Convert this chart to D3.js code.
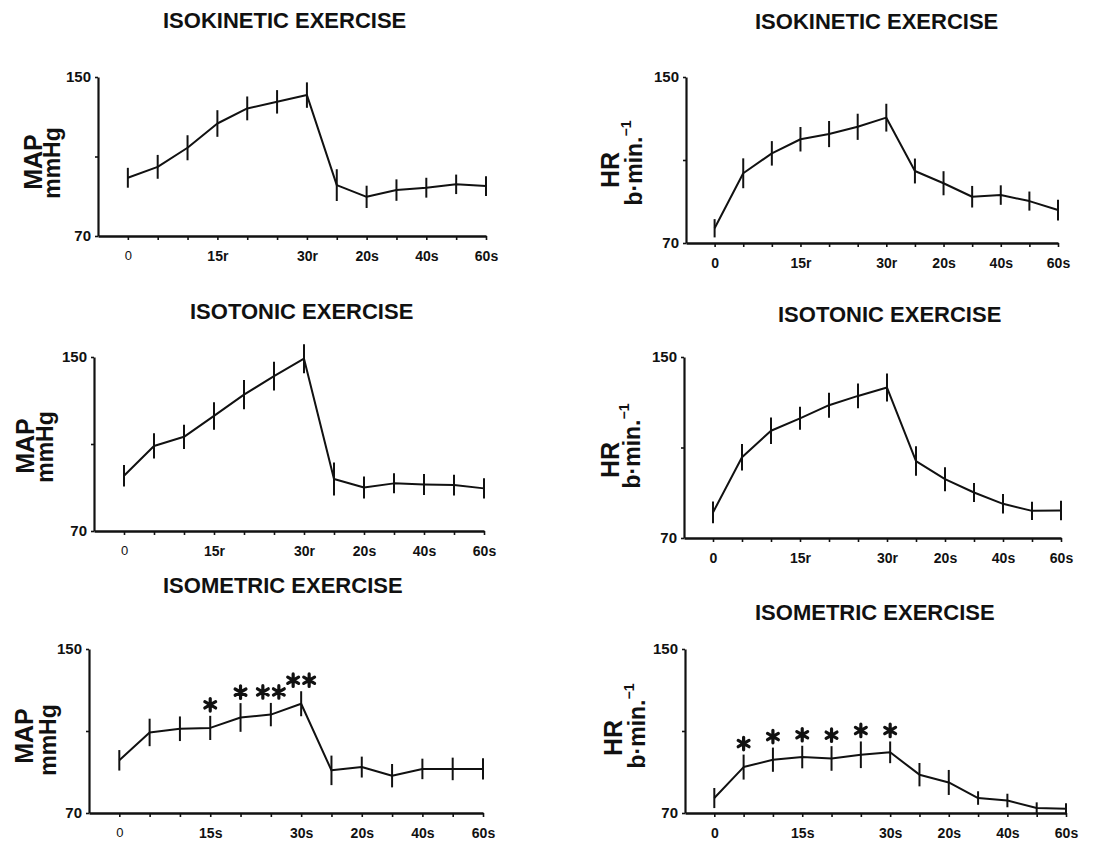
<!DOCTYPE html>
<html>
<head>
<meta charset="utf-8">
<script src="https://cdn.jsdelivr.net/npm/d3@7"></script>
<style>
  body { margin: 0; background: #fff; }
  text { font-family: "Liberation Sans", Arial, sans-serif; fill: #111; }
</style>
</head>
<body>
<script>
// time points: 6 during exercise (5 s apart) + 6 recovery (10 s apart)
const repLabels = ["0", "", "", "15r", "", "", "30r", "", "20s", "", "40s", "", "60s"];
const secLabels = ["0", "", "", "15s", "", "", "30s", "", "20s", "", "40s", "", "60s"];
const yTicks = [70, 110, 150];

// isokinetic
const isokMAP   = [99.3, 104.8, 114.4, 126.6, 134.2, 137.5, 140.9, 95.6, 89.7, 93.1, 94.3, 96.0, 95.1];
const isokMAPse = [5.0, 6.0, 6.3, 6.7, 6.0, 5.9, 6.4, 8.0, 5.6, 5.4, 5.0, 4.9, 5.0];
const isokHR    = [77.1, 103.6, 113.2, 120.0, 122.5, 126.0, 130.4, 104.7, 98.8, 92.3, 93.1, 90.2, 85.9];
const isokHRse  = [4.4, 7.2, 5.9, 5.9, 6.3, 6.3, 6.7, 6.0, 5.8, 5.2, 4.7, 4.6, 5.0];

// isotonic
const isotMAP   = [95.4, 109.1, 113.3, 122.9, 132.7, 141.2, 149.2, 93.9, 90.0, 91.9, 91.4, 91.1, 89.6];
const isotMAPse = [4.9, 5.8, 5.6, 6.3, 6.7, 6.6, 6.7, 7.6, 5.1, 4.6, 4.8, 4.8, 4.6];
const isotHR    = [81.3, 105.7, 117.4, 122.9, 128.7, 132.8, 136.5, 104.0, 96.0, 90.1, 85.1, 82.0, 82.2];
const isotHRse  = [4.8, 5.9, 5.9, 5.1, 5.5, 5.5, 6.2, 6.5, 5.3, 4.2, 4.3, 4.0, 4.3];

// isometric
const isomMAP   = [95.7, 109.3, 111.1, 111.5, 116.6, 118.0, 123.3, 90.8, 92.4, 88.2, 91.5, 91.5, 91.5];
const isomMAPse = [5.0, 6.7, 6.0, 5.9, 7.0, 5.7, 6.1, 7.2, 5.1, 5.7, 5.0, 5.5, 5.2];
const isomHR    = [77.3, 92.4, 96.0, 97.3, 96.6, 98.4, 99.6, 88.7, 84.9, 77.3, 76.1, 72.4, 72.1];
const isomHRse  = [4.9, 6.1, 5.9, 5.5, 6.0, 6.5, 5.3, 5.7, 6.1, 3.3, 3.3, 2.8, 2.7];

// significance marks: [point index, number of asterisks]
const isomMAPstars = [[3, 1], [4, 1], [5, 2], [6, 2]];
const isomHRstars  = [[1, 1], [2, 1], [3, 1], [4, 1], [5, 1], [6, 1]];

const W = 1104, H = 842;
const svg = d3.select("body").append("svg")
    .attr("width", W)
    .attr("height", H);

const panels = [
  {title: "ISOKINETIC EXERCISE", tx: 163, ty: 28, ax: 98, lastX: 486, top: 77, bot: 236,
   vals: isokMAP, se: isokMAPse, labels: repLabels, kind: "MAP", left: true,
   lab: [42, 60], labY: [162, 163]},
  {title: "ISOKINETIC EXERCISE", tx: 755, ty: 29, ax: 686, lastX: 1058, top: 77, bot: 243,
   vals: isokHR, se: isokHRse, labels: repLabels, kind: "HR", left: false,
   lab: [619, 642], labY: [170, 163]},
  {title: "ISOTONIC EXERCISE", tx: 190, ty: 319, ax: 94, lastX: 484, top: 357, bot: 531,
   vals: isotMAP, se: isotMAPse, labels: repLabels, kind: "MAP", left: true,
   lab: [34, 53], labY: [446, 447]},
  {title: "ISOTONIC EXERCISE", tx: 778, ty: 322, ax: 684, lastX: 1061, top: 357, bot: 538,
   vals: isotHR, se: isotHRse, labels: repLabels, kind: "HR", left: false,
   lab: [619, 640], labY: [460, 446]},
  {title: "ISOMETRIC EXERCISE", tx: 163, ty: 593, ax: 89, lastX: 483, top: 649, bot: 813,
   vals: isomMAP, se: isomMAPse, labels: secLabels, kind: "MAP", left: true,
   lab: [33, 56], labY: [736, 740], stars: isomMAPstars},
  {title: "ISOMETRIC EXERCISE", tx: 755, ty: 620, ax: 685, lastX: 1066, top: 649, bot: 813,
   vals: isomHR, se: isomHRse, labels: secLabels, kind: "HR", left: false,
   lab: [622, 645], labY: [738, 726], stars: isomHRstars}
];

panels.forEach(drawPanel);

function drawPanel(p) {
  const x = d3.scaleLinear().domain([-1, 12]).range([p.ax, p.lastX]);
  const y = d3.scaleLinear().domain([70, 150]).range([p.bot, p.top]);
  const g = svg.append("g");

  g.append("text")
      .attr("x", p.tx)
      .attr("y", p.ty)
      .attr("font-size", 22)
      .attr("font-weight", "bold")
      .text(p.title);

  // axes
  const xa = g.append("g")
      .attr("transform", `translate(0,${p.bot})`)
      .call(d3.axisBottom(x)
          .tickValues(d3.range(13))
          .tickSize(4)
          .tickSizeOuter(0)
          .tickPadding(11)
          .tickFormat(i => p.labels[i]));
  xa.select(".domain").attr("stroke-width", 2.6).attr("stroke", "#111");
  xa.selectAll(".tick line").attr("stroke-width", 1.6).attr("stroke", "#111");
  xa.selectAll(".tick text")
      .attr("font-size", 14)
      .attr("font-weight", "bold")
      .attr("font-family", "Liberation Sans, Arial, sans-serif");
  if (p.left) {
    xa.selectAll(".tick text").filter(i => i === 0)
        .attr("font-family", "Liberation Serif, serif")
        .attr("font-weight", "normal")
        .attr("font-size", 13);
  }

  const ya = g.append("g")
      .attr("transform", `translate(${p.ax},0)`)
      .call(d3.axisLeft(y)
          .tickValues(yTicks)
          .tickSize(3)
          .tickSizeOuter(0)
          .tickPadding(4)
          .tickFormat(v => v === 110 ? "" : v));
  ya.select(".domain").attr("stroke-width", 2.2).attr("stroke", "#111");
  ya.selectAll(".tick line").attr("stroke-width", 1.6).attr("stroke", "#111");
  ya.selectAll(".tick text")
      .attr("font-size", 15)
      .attr("font-weight", "bold")
      .attr("font-family", "Liberation Sans, Arial, sans-serif");

  // y label, two rotated lines
  const first = p.kind === "MAP" ? "MAP" : "HR";
  g.append("text")
      .attr("transform", `translate(${p.lab[0]},${p.labY[0]}) rotate(-90)`)
      .attr("text-anchor", "middle")
      .attr("font-size", 25)
      .attr("font-weight", "bold")
      .text(first);
  const second = g.append("text")
      .attr("transform", `translate(${p.lab[1]},${p.labY[1]}) rotate(-90)`)
      .attr("text-anchor", "middle")
      .attr("font-size", 23)
      .attr("font-weight", "bold");
  if (p.kind === "MAP") {
    second.text("mmHg");
  } else {
    second.append("tspan").text("b\u00b7min.");
    second.append("tspan").attr("font-size", 14).attr("dy", -11).text("\u22121");
  }

  // mean line
  const line = d3.line()
      .x((d, i) => x(i))
      .y(d => y(d));
  g.append("path")
      .datum(p.vals)
      .attr("fill", "none")
      .attr("stroke", "#111")
      .attr("stroke-width", 2)
      .attr("stroke-linejoin", "round")
      .attr("d", line);

  // error bars
  g.selectAll(".err")
    .data(p.vals)
    .enter().append("line")
      .attr("class", "err")
      .attr("x1", (d, i) => x(i))
      .attr("x2", (d, i) => x(i))
      .attr("y1", (d, i) => y(d - p.se[i]))
      .attr("y2", (d, i) => y(d + p.se[i]))
      .attr("stroke", "#111")
      .attr("stroke-width", 2);

  // asterisks
  if (p.stars) {
    const sym = d3.symbol().type(d3.symbolAsterisk).size(110);
    p.stars.forEach(([i, n]) => {
      const cy = y(p.vals[i] + p.se[i]) - 11;
      for (let k = 0; k < n; k++) {
        const cx = x(i) + (k - (n - 1) / 2) * 16;
        g.append("path")
            .attr("d", sym())
            .attr("transform", `translate(${cx},${cy})`)
            .attr("fill", "none")
            .attr("stroke", "#111")
            .attr("stroke-width", 3.2)
            .attr("stroke-linecap", "round");
      }
    });
  }
}
</script>
</body>
</html>
